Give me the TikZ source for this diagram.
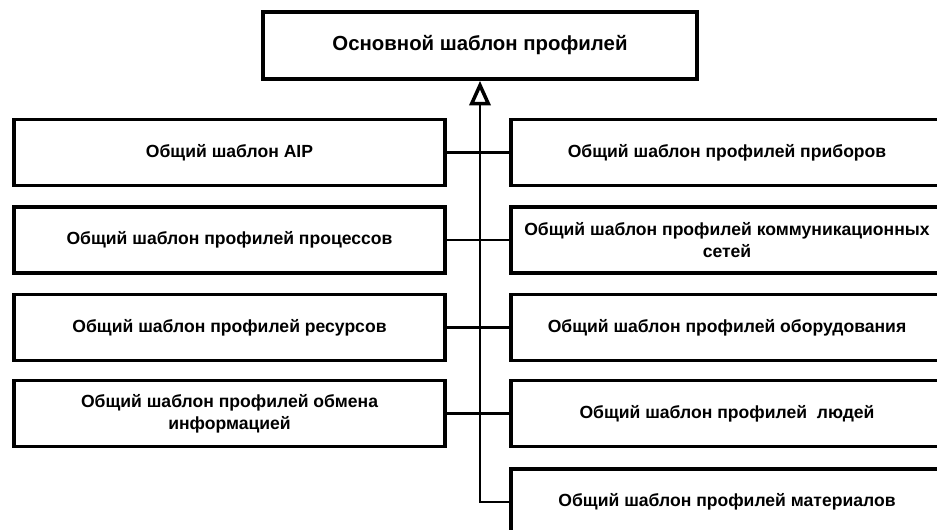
\documentclass[tikz,border=0pt]{standalone}
\usepackage{fontspec}
\setmainfont{Liberation Sans}
\usetikzlibrary{arrows.meta}

\begin{document}
\begin{tikzpicture}[x=0.02cm, y=-0.02cm,
    box/.style={draw, line width=2.1pt, align=center, inner sep=0pt,
      font=\bfseries\fontsize{10}{12.5}\selectfont},
    lbox/.style={box, minimum width=8.62cm, minimum height=1.32cm},
    rbox/.style={box, minimum width=8.64cm, minimum height=1.32cm},
    link/.style={line width=1.2pt}]
  \useasboundingbox (0,0) rectangle (937,530);

  \node[box, minimum width=8.68cm, minimum height=1.34cm,
    font=\bfseries\fontsize{11.6}{14}\selectfont] (base) at (480,45.5) {Основной шаблон профилей};

  \node[lbox] (aip) at (229.5,152.5) {Общий шаблон AIP};
  \node[lbox] (proc) at (229.5,240) {Общий шаблон профилей процессов};
  \node[lbox] (res) at (229.5,327.5) {Общий шаблон профилей ресурсов};
  \node[lbox] (info) at (229.5,413.5) {Общий шаблон профилей обмена\\информацией};

  \node[rbox] (dev) at (727,152.5) {Общий шаблон профилей приборов};
  \node[rbox] (net) at (727,240) {Общий шаблон профилей коммуникационных\\сетей};
  \node[rbox] (equip) at (727,327.5) {Общий шаблон профилей оборудования};
  \node[rbox] (ppl) at (727,413.5) {Общий шаблон профилей~~людей};
  \node[rbox] (mat) at (727,502) {Общий шаблон профилей материалов};

  \draw[link, -{Triangle[open, width=12pt, length=14pt, line width=2pt]}]
    (mat.west) -| (base.south);
  \draw[link] (aip.east) -- (dev.west);
  \draw[link] (proc.east) -- (net.west);
  \draw[link] (res.east) -- (equip.west);
  \draw[link] (info.east) -- (ppl.west);
\end{tikzpicture}
\end{document}
